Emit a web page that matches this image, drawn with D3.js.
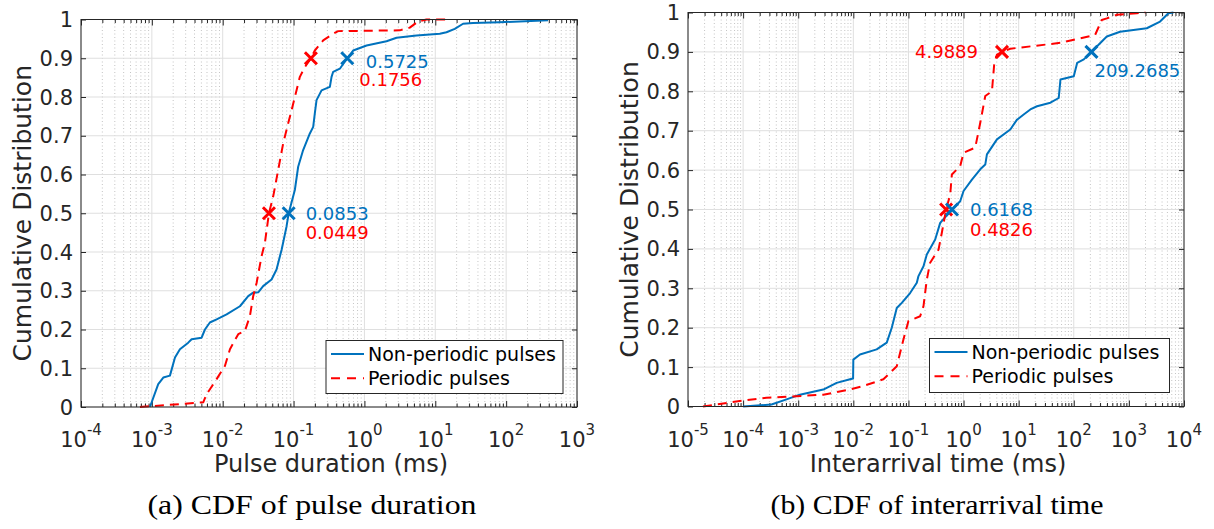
<!DOCTYPE html>
<html>
<head>
<meta charset="utf-8">
<script src="https://cdn.jsdelivr.net/npm/d3@7"></script>
<style>
  html, body { margin: 0; padding: 0; background: #ffffff; }
  svg { display: block; }
</style>
</head>
<body>
<svg id="chart" width="1214" height="529"></svg>
<script>
// ---------------- DATA ----------------
// Panel (a): CDF of pulse duration (ms)
const durNonPeriodicX = [0.00094, 0.00123, 0.00145, 0.0018, 0.00212, 0.00249, 0.00326, 0.00364, 0.00504, 0.00561, 0.00659, 0.0082, 0.01135, 0.0175, 0.0229, 0.0269, 0.0317, 0.0372, 0.0489, 0.0575, 0.0678, 0.0796, 0.0853, 0.1042, 0.1161, 0.1365, 0.1698, 0.1892, 0.1995, 0.2109, 0.2483, 0.3251, 0.3436, 0.3622, 0.4498, 0.5725, 0.6934, 1.072, 2.051, 2.838, 5.433, 11.59, 14.39, 18.84, 24.66, 34.12, 81.28, 390];
const durNonPeriodicY = [0, 0.059, 0.076, 0.081, 0.128, 0.149, 0.166, 0.175, 0.179, 0.2, 0.218, 0.226, 0.239, 0.26, 0.286, 0.295, 0.296, 0.312, 0.329, 0.355, 0.406, 0.466, 0.5, 0.56, 0.62, 0.663, 0.706, 0.723, 0.758, 0.792, 0.817, 0.826, 0.852, 0.865, 0.873, 0.9, 0.92, 0.933, 0.944, 0.953, 0.959, 0.963, 0.967, 0.976, 0.989, 0.991, 0.993, 0.998];
const durPeriodicX = [0.000679, 0.00531, 0.00593, 0.0082, 0.01074, 0.01265, 0.01656, 0.02056, 0.02421, 0.02692, 0.03006, 0.03532, 0.03936, 0.0449, 0.05152, 0.06067, 0.07129, 0.08395, 0.09376, 0.1042, 0.1227, 0.1442, 0.1756, 0.1995, 0.2618, 0.3622, 0.4256, 3.155, 4.365, 5.715, 7.516, 15.8];
const durPeriodicY = [0, 0.012, 0.033, 0.072, 0.106, 0.149, 0.188, 0.196, 0.235, 0.286, 0.32, 0.389, 0.423, 0.5, 0.543, 0.612, 0.68, 0.732, 0.766, 0.8, 0.852, 0.877, 0.9, 0.92, 0.946, 0.963, 0.97, 0.972, 0.979, 0.995, 1.0, 1.0];

// Panel (b): CDF of interarrival time (ms)
const iatNonPeriodicX = [0.0001, 0.000327, 0.000614, 0.00107, 0.00285, 0.00498, 0.00869, 0.0099, 0.0100, 0.0132, 0.0265, 0.0404, 0.0498, 0.0614, 0.0757, 0.1072, 0.1419, 0.152, 0.1875, 0.2153, 0.3055, 0.3767, 0.6168, 0.869, 1.0, 1.419, 2.009, 2.477, 2.655, 4.036, 7.047, 9.333, 12.33, 16.29, 21.53, 37.67, 53.33, 57.28, 100, 115.1, 152.1, 209.2685, 299.9, 397.2, 691.8, 2113, 3681, 5212, 6427];
const iatNonPeriodicY = [0, 0.005, 0.018, 0.030, 0.043, 0.060, 0.069, 0.071, 0.119, 0.132, 0.145, 0.162, 0.2, 0.250, 0.263, 0.288, 0.314, 0.331, 0.356, 0.386, 0.424, 0.466, 0.5, 0.521, 0.547, 0.576, 0.602, 0.614, 0.640, 0.678, 0.703, 0.728, 0.741, 0.754, 0.762, 0.771, 0.783, 0.830, 0.838, 0.872, 0.881, 0.9, 0.922, 0.939, 0.951, 0.96, 0.977, 0.998, 1.0];
const iatPeriodicX = [0.0000187, 0.0000869, 0.000265, 0.000933, 0.00285, 0.00869, 0.0152, 0.0351, 0.0614, 0.0811, 0.1, 0.163, 0.1875, 0.2153, 0.2477, 0.3508, 0.4036, 0.4826, 0.5728, 0.6138, 0.869, 1.0, 1.629, 2.009, 2.477, 3.273, 3.614, 4.036, 4.9889, 7.047, 57.28, 100, 243.8, 322.1, 397.2, 602.6, 1390, 2000];
const iatPeriodicY = [0, 0.014, 0.022, 0.026, 0.030, 0.043, 0.052, 0.069, 0.102, 0.170, 0.217, 0.229, 0.255, 0.322, 0.365, 0.398, 0.441, 0.5, 0.538, 0.589, 0.610, 0.644, 0.657, 0.720, 0.788, 0.800, 0.872, 0.893, 0.9, 0.908, 0.923, 0.931, 0.943, 0.981, 0.985, 0.994, 0.998, 1.0];

// Marked percentiles (median, 90th)
const durNonPeriodicMarks = [[0.0853, 0.5], [0.5725, 0.9]];
const durPeriodicMarks = [[0.0449, 0.5], [0.1756, 0.9]];
const iatNonPeriodicMarks = [[0.6168, 0.5], [209.2685, 0.9]];
const iatPeriodicMarks = [[0.4826, 0.5], [4.9889, 0.9]];

const yTickValues = [0, 0.1, 0.2, 0.3, 0.4, 0.5, 0.6, 0.7, 0.8, 0.9, 1];
const yTickLabels = ["0", "0.1", "0.2", "0.3", "0.4", "0.5", "0.6", "0.7", "0.8", "0.9", "1"];
const durDecades = [-4, -3, -2, -1, 0, 1, 2, 3];
const iatDecades = [-5, -4, -3, -2, -1, 0, 1, 2, 3, 4];
const legendLabels = ["Non-periodic pulses", "Periodic pulses"];

// ---------------- STYLE ----------------
const BLUE = "#0072BD";
const RED = "#FF0000";
const AXIS = "#262626";
const SANS = "'DejaVu Sans', sans-serif";
const SERIF = "'Liberation Serif', 'DejaVu Serif', serif";

const svg = d3.select("#chart");

function zip(xs, ys) { return xs.map((x, i) => [x, ys[i]]); }

function panel(cfg) {
  const { id, left, right, top, bottom, decades, series, marks, notes, legend, xLabel, caption } = cfg;
  const x = d3.scaleLog().domain([Math.pow(10, decades[0]), Math.pow(10, decades[decades.length - 1])]).range([left, right]);
  const y = d3.scaleLinear().domain([0, 1]).range([bottom, top]);
  const g = svg.append("g");

  const minor = [];
  for (let i = 0; i < decades.length - 1; i++) {
    for (let m = 2; m <= 9; m++) minor.push(m * Math.pow(10, decades[i]));
  }
  const major = decades.map(d => Math.pow(10, d));

  // grid
  const grid = g.append("g");
  grid.selectAll(".mnx").data(minor).join("line")
    .attr("x1", d => x(d)).attr("x2", d => x(d)).attr("y1", top).attr("y2", bottom)
    .attr("stroke", "#c4c4c4").attr("stroke-width", 1).attr("stroke-dasharray", "1,2.5");
  grid.selectAll(".mjx").data(major).join("line")
    .attr("x1", d => x(d)).attr("x2", d => x(d)).attr("y1", top).attr("y2", bottom)
    .attr("stroke", "#dfdfdf").attr("stroke-width", 1);
  grid.selectAll(".mjy").data(yTickValues).join("line")
    .attr("x1", left).attr("x2", right).attr("y1", d => y(d)).attr("y2", d => y(d))
    .attr("stroke", "#dfdfdf").attr("stroke-width", 1);

  // axes (inward ticks)
  const bottomAxis = d3.axisBottom(x).tickValues(major).tickSize(-6).tickFormat(""),
        bottomMinor = d3.axisBottom(x).tickValues(minor).tickSize(-3.5).tickFormat(""),
        topAxis = d3.axisTop(x).tickValues(major).tickSize(-6).tickFormat(""),
        topMinor = d3.axisTop(x).tickValues(minor).tickSize(-3.5).tickFormat(""),
        leftAxis = d3.axisLeft(y).tickValues(yTickValues).tickSize(-5).tickFormat(""),
        rightAxis = d3.axisRight(y).tickValues(yTickValues).tickSize(-5).tickFormat("");
  const axG = g.append("g");
  [[bottomAxis, `translate(0,${bottom})`], [bottomMinor, `translate(0,${bottom})`],
   [topAxis, `translate(0,${top})`], [topMinor, `translate(0,${top})`],
   [leftAxis, `translate(${left},0)`], [rightAxis, `translate(${right},0)`]].forEach(([ax, tr]) => {
    const a = axG.append("g").attr("transform", tr).call(ax);
    a.select(".domain").remove();
    a.selectAll("line").attr("stroke", AXIS).attr("stroke-width", 1);
  });

  // curves
  const clipId = "clip-" + id;
  g.append("clipPath").attr("id", clipId).append("rect")
    .attr("x", left).attr("y", top - 2).attr("width", right - left).attr("height", bottom - top + 4);
  const line = d3.line().x(d => x(d[0])).y(d => y(d[1]));
  const curves = g.append("g").attr("clip-path", `url(#${clipId})`);
  series.forEach(s => {
    curves.append("path").datum(s.data).attr("d", line)
      .attr("fill", "none").attr("stroke", s.color).attr("stroke-width", 2)
      .attr("stroke-linejoin", "round")
      .attr("stroke-dasharray", s.dash || null);
  });

  // box
  g.append("rect").attr("x", left).attr("y", top).attr("width", right - left).attr("height", bottom - top)
    .attr("fill", "none").attr("stroke", AXIS).attr("stroke-width", 1);

  // markers
  const mk = g.append("g");
  marks.forEach(m => {
    m.data.forEach(p => {
      const cx = x(p[0]), cy = y(p[1]), r = 6;
      mk.append("path").attr("d", `M${cx - r},${cy - r}L${cx + r},${cy + r}M${cx - r},${cy + r}L${cx + r},${cy - r}`)
        .attr("stroke", m.color).attr("stroke-width", 3).attr("fill", "none");
    });
  });

  // annotations
  notes.forEach(n => {
    g.append("text").attr("x", x(n.at[0]) + n.dx).attr("y", y(n.at[1]) + n.dy)
      .attr("fill", n.color).attr("font-family", SANS).attr("font-size", 18)
      .attr("text-anchor", n.anchor || "start").text(n.text);
  });

  // tick labels
  const tl = g.append("g").attr("font-family", SANS).attr("fill", AXIS);
  yTickValues.forEach((v, i) => {
    tl.append("text").attr("x", left - 8).attr("y", y(v) + 7.5).attr("text-anchor", "end")
      .attr("font-size", 21).text(yTickLabels[i]);
  });
  decades.forEach(d => {
    const t = tl.append("text").attr("x", x(Math.pow(10, d))).attr("y", bottom + 40)
      .attr("text-anchor", "middle").attr("font-size", 21);
    t.append("tspan").text("10");
    t.append("tspan").attr("dy", -12).attr("font-size", 15).text(String(d));
  });

  // axis labels
  g.append("text").attr("transform", `translate(${cfg.yLabelX},${(top + bottom) / 2}) rotate(-90)`)
    .attr("text-anchor", "middle").attr("font-family", SANS).attr("font-size", 25).attr("fill", AXIS)
    .text("Cumulative Distribution");
  g.append("text").attr("x", (left + right) / 2 + 2).attr("y", 472)
    .attr("text-anchor", "middle").attr("font-family", SANS).attr("font-size", 24).attr("fill", AXIS)
    .text(xLabel);

  // caption
  g.append("text").attr("x", cfg.captionX - cfg.captionW / 2).attr("y", 514)
    .attr("font-family", SERIF).attr("font-size", 27).attr("fill", "#000")
    .attr("textLength", cfg.captionW).attr("lengthAdjust", "spacingAndGlyphs")
    .text(caption);

  // legend
  const lg = g.append("g");
  lg.append("rect").attr("x", legend.x).attr("y", legend.y).attr("width", legend.w).attr("height", legend.h)
    .attr("fill", "#fff").attr("stroke", AXIS).attr("stroke-width", 1);
  series.forEach((s, i) => {
    const ly = legend.y + 13.5 + i * 24.3;
    lg.append("line").attr("x1", legend.x + 5).attr("x2", legend.x + 38).attr("y1", ly).attr("y2", ly)
      .attr("stroke", s.color).attr("stroke-width", 2).attr("stroke-dasharray", s.dash ? "9,7" : null);
    lg.append("text").attr("x", legend.x + 42).attr("y", ly + 7).attr("font-family", SANS)
      .attr("font-size", 19).attr("fill", "#000").text(legendLabels[i]);
  });
}

panel({
  id: "a", left: 81, right: 577, top: 19.5, bottom: 407, decades: durDecades,
  series: [
    { data: zip(durNonPeriodicX, durNonPeriodicY), color: BLUE },
    { data: zip(durPeriodicX, durPeriodicY), color: RED, dash: "9,6" }
  ],
  marks: [{ data: durPeriodicMarks, color: RED }, { data: durNonPeriodicMarks, color: BLUE }],
  notes: [
    { text: "0.0853", at: durNonPeriodicMarks[0], dx: 17, dy: 6.5, color: BLUE },
    { text: "0.0449", at: durNonPeriodicMarks[0], dx: 17, dy: 26, color: RED },
    { text: "0.5725", at: durNonPeriodicMarks[1], dx: 18.5, dy: 9.5, color: BLUE },
    { text: "0.1756", at: durNonPeriodicMarks[1], dx: 12, dy: 27.5, color: RED }
  ],
  legend: { x: 326, y: 340.5, w: 237, h: 53 },
  xLabel: "Pulse duration (ms)", yLabelX: 31, captionX: 312, captionW: 329,
  caption: "(a) CDF of pulse duration"
});

panel({
  id: "b", left: 688, right: 1184, top: 12.5, bottom: 406.5, decades: iatDecades,
  series: [
    { data: zip(iatNonPeriodicX, iatNonPeriodicY), color: BLUE },
    { data: zip(iatPeriodicX, iatPeriodicY), color: RED, dash: "9,6" }
  ],
  marks: [{ data: iatPeriodicMarks, color: RED }, { data: iatNonPeriodicMarks, color: BLUE }],
  notes: [
    { text: "0.6168", at: iatNonPeriodicMarks[0], dx: 18, dy: 6, color: BLUE },
    { text: "0.4826", at: iatNonPeriodicMarks[0], dx: 18, dy: 26, color: RED },
    { text: "4.9889", at: iatPeriodicMarks[1], dx: -24, dy: 6, color: RED, anchor: "end" },
    { text: "209.2685", at: iatNonPeriodicMarks[1], dx: 3, dy: 25, color: BLUE }
  ],
  legend: { x: 929.5, y: 338.5, w: 240, h: 54 },
  xLabel: "Interarrival time (ms)", yLabelX: 638, captionX: 937, captionW: 333,
  caption: "(b) CDF of interarrival time"
});
</script>
</body>
</html>
